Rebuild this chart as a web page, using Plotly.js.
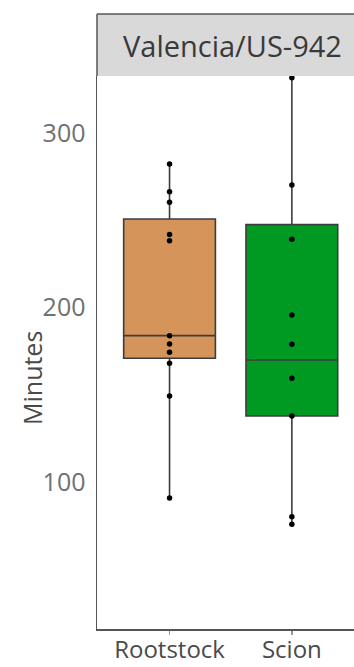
<!DOCTYPE html>
<html>
<head>
<meta charset="utf-8">
<script src="https://cdn.plot.ly/plotly-3.0.1.min.js"></script>
<style>html,body{margin:0;padding:0;background:#fff;}#chart{width:354px;height:667px;}</style>
</head>
<body>
<div id="chart"></div>
<script>
// ---- data ----
const categories = ["Rootstock", "Scion"];
const panelTitle = "Valencia/US-942";
const yTickVals = [100, 200, 300];
const yTickText = ["100", "200", "300"];
const rootstockPoints = [282.1, 266.2, 260.2, 241.8, 238.2, 183.7, 179.0, 174.2, 167.9, 149.2, 90.7];
const scionPoints = [331.6, 270.1, 239.0, 195.6, 178.8, 159.3, 137.7, 80.0, 75.6];
const lowerFences = [90.7, 75.6];
const q1s = [170.8, 137.7];
const medians = [183.8, 169.8];
const q3s = [250.6, 247.4];
const upperFences = [282.1, 331.6];
const boxColors = ["#D4945A", "#009A23"];

const traces = [];
categories.forEach((c, i) => {
  traces.push({
    type: "box",
    x: [c],
    q1: [q1s[i]], median: [medians[i]], q3: [q3s[i]],
    lowerfence: [lowerFences[i]], upperfence: [upperFences[i]],
    fillcolor: boxColors[i],
    line: {color: "#3c3c3c", width: 1.6},
    whiskerwidth: 0,
    width: 0.75,
    boxpoints: false,
    hoverinfo: "skip",
    showlegend: false
  });
});
const allPts = [rootstockPoints, scionPoints];
categories.forEach((c, i) => {
  traces.push({
    type: "scatter", mode: "markers",
    x: allPts[i].map(() => c),
    y: allPts[i],
    marker: {color: "#000", size: 5.5},
    hoverinfo: "skip", showlegend: false
  });
});

const plotH = 667 - 76 - 38;
const stripTop = 1 + 62 / plotH;

const layout = {
  width: 354, height: 667,
  margin: {l: 97, r: 0, t: 76, b: 38},
  paper_bgcolor: "#fff", plot_bgcolor: "#fff",
  font: {family: "Open Sans, sans-serif"},
  xaxis: {
    type: "category",
    range: [-0.593, 1.508],
    showline: true, linecolor: "#555", linewidth: 1.5,
    ticks: "outside", ticklen: 4, tickcolor: "#999", tickwidth: 1.5,
    ticklabelstandoff: -5,
    tickfont: {size: 24, color: "#4a4a4a"},
    showgrid: false, zeroline: false, fixedrange: true
  },
  yaxis: {
    range: [15.6, 332.6],
    tickvals: yTickVals, ticktext: yTickText,
    showline: true, linecolor: "#555", linewidth: 1.5,
    ticks: "", ticklabelstandoff: 5,
    tickfont: {size: 25, color: "#707070"},
    showgrid: false, zeroline: false, fixedrange: true
  },
  shapes: [
    {type: "rect", xref: "paper", yref: "paper", x0: 0, x1: 1, y0: 1, y1: stripTop,
     fillcolor: "#d9d9d9", line: {width: 0}, layer: "below"},
    {type: "line", xref: "paper", yref: "paper", x0: 0, x1: 1, y0: stripTop, y1: stripTop,
     line: {color: "#555", width: 1.5}},
    {type: "line", xref: "paper", yref: "paper", x0: 0, x1: 0, y0: 1, y1: stripTop,
     line: {color: "#555", width: 1.5}}
  ],
  annotations: [
    {text: panelTitle, xref: "paper", yref: "paper", x: 0.527, y: (1 + stripTop) / 2,
     xanchor: "center", yanchor: "middle", showarrow: false,
     font: {size: 29, color: "#3a3a3a"}},
    {text: "Minutes", xref: "paper", yref: "paper", x: -65 / 257, xanchor: "center",
     y: (629 - 378) / plotH, yanchor: "middle", textangle: -90, showarrow: false,
     font: {size: 25, color: "#4a4a4a"}}
  ]
};

Plotly.newPlot("chart", traces, layout, {displayModeBar: false, staticPlot: true});
</script>
</body>
</html>
